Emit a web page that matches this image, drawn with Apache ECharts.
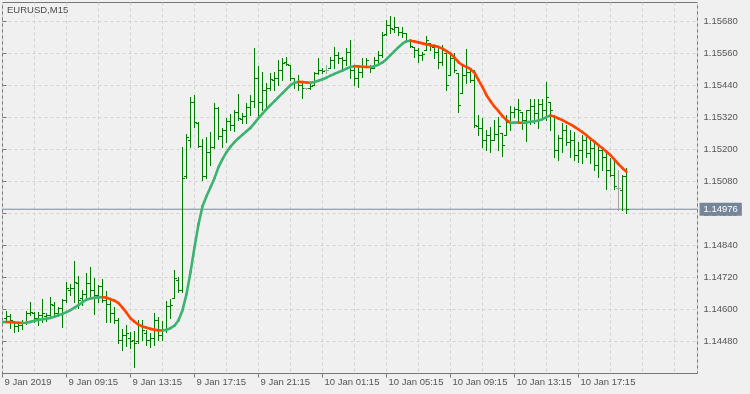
<!DOCTYPE html>
<html><head><meta charset="utf-8">
<script src="https://cdn.jsdelivr.net/npm/echarts@6/dist/echarts.min.js"></script>
<style>html,body{margin:0;padding:0;background:#F0F0F0;}#c{width:750px;height:394px;}</style>
</head><body><div id="c"></div>
<script>
// ---- data ----
const symbolTitle = 'EURUSD,M15';
// time labels, one every 16 bars (4 hours of M15), starting at the left edge bar
const timeLabels = ['9 Jan 2019','9 Jan 09:15','9 Jan 13:15','9 Jan 17:15','9 Jan 21:15','10 Jan 01:15','10 Jan 05:15','10 Jan 09:15','10 Jan 13:15','10 Jan 17:15'];
const priceTicks = [1.14480,1.14600,1.14720,1.14840,1.14960,1.15080,1.15200,1.15320,1.15440,1.15560,1.15680];
const lastPrice = 1.14976;

const open = [
1.14568,1.14575,1.14552,1.14538,1.14541,1.14552,1.14586,1.14586,1.14568,1.14579,
1.14575,1.14579,1.14616,1.14586,1.14605,1.14635,1.14672,1.14680,1.14699,1.14642,
1.14658,1.14699,1.14672,1.14654,1.14688,1.14635,1.14620,1.14586,1.14560,1.14485,
1.14504,1.14492,1.14485,1.14481,1.14541,1.14511,1.14485,1.14492,1.14560,1.14504,
1.14522,1.14612,1.14642,1.14710,1.14672,1.15100,1.15235,1.15378,1.15299,1.15212,
1.15100,1.15190,1.15209,1.15355,1.15250,1.15272,1.15306,1.15291,1.15340,1.15314,
1.15325,1.15359,1.15381,1.15468,1.15378,1.15422,1.15430,1.15460,1.15468,1.15498,
1.15528,1.15516,1.15468,1.15452,1.15441,1.15428,1.15430,1.15441,1.15486,1.15498,
1.15498,1.15505,1.15535,1.15554,1.15542,1.15535,1.15565,1.15498,1.15468,1.15490,
1.15512,1.15512,1.15505,1.15535,1.15554,1.15633,1.15666,1.15651,1.15659,1.15640,
1.15636,1.15610,1.15584,1.15572,1.15554,1.15572,1.15599,1.15584,1.15565,1.15528,
1.15561,1.15479,1.15542,1.15486,1.15411,1.15479,1.15490,1.15460,1.15288,1.15280,
1.15235,1.15254,1.15235,1.15258,1.15261,1.15254,1.15302,1.15340,1.15351,1.15340,
1.15310,1.15348,1.15362,1.15336,1.15370,1.15348,1.15378,1.15329,1.15198,1.15242,
1.15272,1.15228,1.15235,1.15179,1.15198,1.15235,1.15186,1.15205,1.15141,1.15198,
1.15171,1.15122,1.15104,1.15055,1.15048,1.15100];
const high = [
1.14594,1.14582,1.14556,1.14549,1.14560,1.14594,1.14628,1.14590,1.14590,1.14639,
1.14586,1.14646,1.14628,1.14609,1.14639,1.14702,1.14695,1.14781,1.14725,1.14672,
1.14736,1.14759,1.14718,1.14691,1.14714,1.14669,1.14639,1.14609,1.14568,1.14526,
1.14541,1.14515,1.14519,1.14560,1.14560,1.14522,1.14511,1.14586,1.14571,1.14556,
1.14631,1.14639,1.14748,1.14721,1.15209,1.15258,1.15396,1.15404,1.15302,1.15239,
1.15246,1.15265,1.15374,1.15359,1.15280,1.15318,1.15332,1.15348,1.15408,1.15336,
1.15374,1.15404,1.15580,1.15512,1.15490,1.15449,1.15486,1.15490,1.15535,1.15542,
1.15546,1.15516,1.15468,1.15479,1.15452,1.15430,1.15445,1.15490,1.15542,1.15505,
1.15516,1.15546,1.15584,1.15565,1.15546,1.15580,1.15610,1.15516,1.15509,1.15542,
1.15542,1.15516,1.15546,1.15569,1.15640,1.15685,1.15700,1.15696,1.15659,1.15659,
1.15636,1.15614,1.15584,1.15580,1.15565,1.15625,1.15599,1.15584,1.15584,1.15591,
1.15561,1.15565,1.15561,1.15486,1.15516,1.15576,1.15498,1.15498,1.15329,1.15318,
1.15272,1.15284,1.15310,1.15321,1.15261,1.15329,1.15362,1.15359,1.15389,1.15340,
1.15348,1.15389,1.15389,1.15389,1.15389,1.15452,1.15378,1.15329,1.15254,1.15299,
1.15291,1.15272,1.15265,1.15228,1.15254,1.15246,1.15235,1.15228,1.15216,1.15205,
1.15198,1.15168,1.15160,1.15122,1.15104,1.15130];
const low = [
1.14552,1.14530,1.14515,1.14519,1.14526,1.14545,1.14579,1.14552,1.14541,1.14552,
1.14556,1.14568,1.14575,1.14575,1.14534,1.14628,1.14654,1.14628,1.14605,1.14616,
1.14635,1.14642,1.14582,1.14628,1.14628,1.14552,1.14552,1.14549,1.14474,1.14448,
1.14462,1.14455,1.14384,1.14474,1.14485,1.14466,1.14459,1.14466,1.14485,1.14485,
1.14515,1.14568,1.14642,1.14665,1.14665,1.15092,1.15209,1.15284,1.15209,1.15085,
1.15092,1.15141,1.15205,1.15239,1.15209,1.15228,1.15272,1.15269,1.15310,1.15299,
1.15299,1.15329,1.15359,1.15321,1.15348,1.15348,1.15422,1.15422,1.15441,1.15460,
1.15516,1.15460,1.15430,1.15422,1.15392,1.15426,1.15426,1.15441,1.15482,1.15486,
1.15486,1.15505,1.15505,1.15524,1.15505,1.15516,1.15468,1.15441,1.15434,1.15471,
1.15509,1.15490,1.15505,1.15524,1.15546,1.15629,1.15636,1.15640,1.15629,1.15621,
1.15602,1.15584,1.15546,1.15528,1.15535,1.15572,1.15572,1.15542,1.15505,1.15516,
1.15422,1.15479,1.15490,1.15340,1.15411,1.15449,1.15452,1.15284,1.15254,1.15209,
1.15198,1.15190,1.15235,1.15198,1.15175,1.15254,1.15272,1.15321,1.15299,1.15276,
1.15231,1.15295,1.15299,1.15280,1.15314,1.15310,1.15272,1.15171,1.15160,1.15190,
1.15216,1.15171,1.15160,1.15152,1.15149,1.15171,1.15149,1.15122,1.15096,1.15122,
1.15051,1.15100,1.15051,1.14972,1.14972,1.14961];
const close = [
1.14575,1.14560,1.14538,1.14541,1.14552,1.14586,1.14590,1.14568,1.14579,1.14586,
1.14579,1.14620,1.14586,1.14605,1.14635,1.14680,1.14680,1.14702,1.14635,1.14658,
1.14699,1.14672,1.14654,1.14688,1.14635,1.14620,1.14586,1.14560,1.14485,1.14504,
1.14511,1.14481,1.14474,1.14541,1.14522,1.14485,1.14492,1.14560,1.14504,1.14522,
1.14612,1.14616,1.14718,1.14672,1.15092,1.15246,1.15378,1.15302,1.15212,1.15100,
1.15190,1.15209,1.15355,1.15250,1.15272,1.15306,1.15291,1.15340,1.15318,1.15325,
1.15359,1.15381,1.15468,1.15378,1.15422,1.15430,1.15464,1.15468,1.15498,1.15524,
1.15520,1.15468,1.15452,1.15441,1.15430,1.15428,1.15438,1.15486,1.15498,1.15494,
1.15498,1.15535,1.15554,1.15542,1.15535,1.15565,1.15498,1.15468,1.15490,1.15512,
1.15535,1.15505,1.15535,1.15554,1.15629,1.15666,1.15655,1.15659,1.15640,1.15636,
1.15610,1.15588,1.15572,1.15554,1.15558,1.15610,1.15588,1.15565,1.15528,1.15572,
1.15441,1.15542,1.15498,1.15366,1.15479,1.15490,1.15460,1.15291,1.15280,1.15235,
1.15254,1.15235,1.15258,1.15288,1.15216,1.15302,1.15340,1.15351,1.15348,1.15310,
1.15348,1.15362,1.15336,1.15370,1.15348,1.15396,1.15348,1.15198,1.15242,1.15272,
1.15228,1.15235,1.15179,1.15198,1.15235,1.15186,1.15205,1.15141,1.15198,1.15171,
1.15122,1.15104,1.15062,1.15055,1.15100,1.14976];
// moving average, starting one bar before the first drawn bar (left edge)
const ma = [
1.145525,1.145532,1.145525,1.145514,1.145502,1.145495,1.145506,1.145536,1.145574,1.145611,
1.145637,1.145656,1.145686,1.145731,1.145787,1.145836,1.145900,1.145975,1.146069,1.146162,
1.146275,1.146369,1.146414,1.146444,1.146455,1.146462,1.146444,1.146387,1.146331,1.146237,
1.146069,1.145881,1.145675,1.145544,1.145431,1.145364,1.145319,1.145274,1.145244,1.145217,
1.145210,1.145244,1.145300,1.145394,1.145600,1.145975,1.146575,1.147400,1.148337,1.149200,
1.149875,1.150250,1.150587,1.150925,1.151337,1.151637,1.151900,1.152106,1.152275,1.152425,
1.152556,1.152687,1.152811,1.152987,1.153175,1.153344,1.153512,1.153662,1.153812,1.153962,
1.154112,1.154262,1.154412,1.154506,1.154536,1.154525,1.154514,1.154502,1.154532,1.154581,
1.154637,1.154694,1.154769,1.154836,1.154900,1.154964,1.155031,1.155099,1.155125,1.155114,
1.155102,1.155095,1.155091,1.155125,1.155181,1.155264,1.155387,1.155537,1.155687,1.155837,
1.155969,1.156062,1.156081,1.156051,1.156017,1.155980,1.155942,1.155912,1.155886,1.155845,
1.155781,1.155687,1.155594,1.155444,1.155275,1.155162,1.155099,1.155012,1.154881,1.154600,
1.154337,1.154037,1.153812,1.153606,1.153437,1.153250,1.153100,1.152999,1.153006,1.153010,
1.152995,1.153017,1.153040,1.153062,1.153089,1.153137,1.153212,1.153280,1.153231,1.153164,
1.153100,1.153014,1.152939,1.152845,1.152751,1.152650,1.152537,1.152406,1.152294,1.152162,
1.152050,1.151919,1.151787,1.151619,1.151450,1.151300,1.151169];

// ---- chart ----
const FONT = '"Liberation Sans", Arial, sans-serif';
const TXT = '#555555';
const X_MAX = 173.75;               // visible bar slots (4 px each)
const Y_MIN = 1.14360, Y_STEP = 0.0012;
const Y_MAX = Y_MIN + Y_STEP * 371 / 32;

const barData = open.map((o, k) => [k + 1, o, high[k], low[k], close[k]]);
const maData = [];
for (let i = 1; i < ma.length; i++) maData.push([i, ma[i], i - 1, ma[i - 1]]);
const maColors = [];
let prevCol = '#3CB371';
for (let i = 1; i < ma.length; i++) {
  if (ma[i] > ma[i - 1]) prevCol = '#3CB371'; else if (ma[i] < ma[i - 1]) prevCol = '#FF4500';
  maColors.push(prevCol);
}

const chart = echarts.init(document.getElementById('c'), null, {renderer: 'canvas'});
const grid = {left: 2.5, top: 2.5, width: 695, height: 371, show: true, borderColor: '#767676', borderWidth: 1, backgroundColor: 'transparent', containLabel: false};

chart.setOption({
  animation: false,
  backgroundColor: '#F0F0F0',
  grid: grid,
  graphic: [{type: 'text', left: 7, top: 5, style: {text: symbolTitle, font: '9.5px ' + FONT, fill: '#4A4A4A'}}],
  xAxis: [
    {type: 'value', min: 0, max: X_MAX, interval: 8, axisLine: {show: false}, axisTick: {show: false}, axisLabel: {show: false},
     splitLine: {show: true, lineStyle: {color: '#D2D2D2', type: [3, 3], width: 1}}},
    {type: 'value', position: 'bottom', min: 0, max: X_MAX, interval: 16, axisLine: {show: false},
     axisTick: {show: true, length: 4, lineStyle: {color: '#767676'}, customValues: timeLabels.map((t, i) => i * 16)},
     axisLabel: {show: true, customValues: timeLabels.map((t, i) => i * 16), formatter: v => (v % 16 === 0 && timeLabels[v / 16]) ? timeLabels[v / 16] : '',
       align: 'left', margin: 4, padding: [0, 0, 0, 2], color: TXT, fontFamily: FONT, fontSize: 9.5},
     splitLine: {show: false}}
  ],
  yAxis: [{type: 'value', position: 'right', min: Y_MIN, max: Y_MAX, interval: Y_STEP, scale: true,
    axisLine: {show: false},
    axisTick: {show: true, length: 4, lineStyle: {color: '#767676'}, customValues: priceTicks},
    axisLabel: {show: true, customValues: priceTicks, margin: 6, color: TXT, fontFamily: FONT, fontSize: 9.5, formatter: v => v.toFixed(5)},
    splitLine: {show: true, lineStyle: {color: '#D2D2D2', type: [3, 3], width: 1}}}],
  series: [
    {type: 'line', xAxisIndex: 0, data: [[0, lastPrice], [X_MAX, lastPrice]], symbol: 'none', silent: true, clip: false,
     lineStyle: {color: '#7B8B9B', width: 1}, z: 1,
     endLabel: {show: true, formatter: () => lastPrice.toFixed(5), backgroundColor: '#76869A', color: '#FFFFFF',
       fontFamily: FONT, fontSize: 9.5, padding: [2, 4, 1, 4], distance: 2}},
    {type: 'custom', xAxisIndex: 0, data: barData, z: 3, clip: true,
     renderItem: (params, api) => {
       const x = api.value(0);
       const o = api.coord([x, api.value(1)]), h = api.coord([x, api.value(2)]);
       const l = api.coord([x, api.value(3)]), c = api.coord([x, api.value(4)]);
       const px = Math.floor(o[0]) + 0.5;
       const col = api.value(1) === api.value(4) ? '#A3A3A3' : '#007A00';
       const yo = Math.floor(o[1]) + 0.5, yc = Math.floor(c[1]) + 0.5;
       return {type: 'group', children: [
         {type: 'line', shape: {x1: px, y1: Math.floor(h[1]), x2: px, y2: Math.floor(l[1]) + 1}, style: {stroke: col, lineWidth: 1}},
         {type: 'line', shape: {x1: px - 2.5, y1: yo, x2: px - 0.5, y2: yo}, style: {stroke: col, lineWidth: 1}},
         {type: 'line', shape: {x1: px + 0.5, y1: yc, x2: px + 2.5, y2: yc}, style: {stroke: col, lineWidth: 1}}
       ]};
     }},
    {type: 'custom', xAxisIndex: 0, data: maData, z: 4, clip: true,
     renderItem: (params, api) => {
       const p1 = api.coord([api.value(2), api.value(3)]);
       const p2 = api.coord([api.value(0), api.value(1)]);
       return {type: 'line', shape: {x1: Math.floor(p1[0]) + 0.5, y1: p1[1], x2: Math.floor(p2[0]) + 0.5, y2: p2[1]},
         style: {stroke: maColors[params.dataIndex], lineWidth: 2.6, lineCap: 'round'}};
     }}
  ]
});
</script></body></html>
